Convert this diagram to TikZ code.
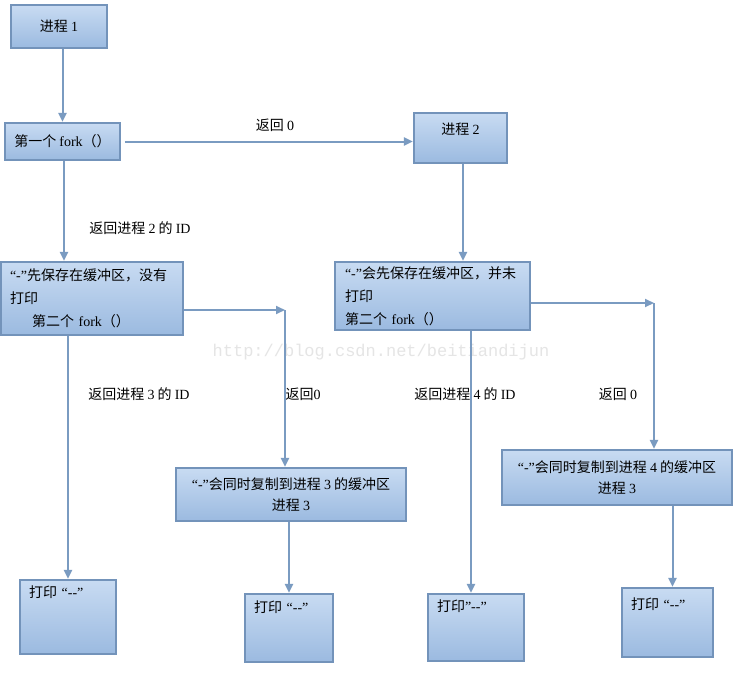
\documentclass[tikz,border=0pt]{standalone}
\usepackage{fontspec}
\setmainfont{Noto Sans CJK SC}
\newfontfamily\lat{Liberation Serif}[Ligatures=TeXOff]
\newfontfamily\wmfont{Liberation Mono}
\newcommand\en[1]{{\lat #1}}
\usetikzlibrary{arrows.meta}
\definecolor{boxtop}{HTML}{C8DBF2}
\definecolor{boxbottom}{HTML}{9BBAE0}
\definecolor{boxline}{HTML}{7393BA}
\definecolor{linkline}{HTML}{7A9BC1}

\tikzset{
  box/.style={draw=boxline, line width=2.2pt, top color=boxtop, bottom color=boxbottom,
    font=\fontsize{14}{23}\selectfont, inner xsep=9pt},
  printbox/.style={box, align=left, text width=#1, text height=10pt},
  link/.style={draw=linkline, line width=2pt, -{Triangle[length=9pt,width=8pt]}},
  tag/.style={font=\fontsize{14}{16}\selectfont},
  wmark/.style={font=\wmfont\fontsize{17}{20}\selectfont, text=black!10},
}

\begin{document}
\begin{tikzpicture}[x=1pt,y=-1pt]
\fill[white] (0,0) rectangle (743,682);
\useasboundingbox (0,0) rectangle (743,682);
\node[wmark] (wm) at (381,352) {http://blog.csdn.net/beitiandijun};

\node[box, minimum width=96pt, minimum height=43pt] (p1) at (59,26.5) {进程 \en{1}};
\node[box, minimum width=111pt, minimum height=37pt] (fork1) at (62.5,141.5) {第一个 \en{fork}（）};
\node[box, minimum width=93pt, minimum height=50pt, text height=10pt, text depth=18pt] (p2) at (460.5,138) {进程 \en{2}};
\node[box, text width=164pt, align=left, minimum height=73pt] (bufA) at (92,298.5)
  {\en{“-”}先保存在缓冲区，没有\\打印\\\hspace*{22pt}第二个 \en{fork}（）};
\node[box, text width=175pt, inner xsep=10pt, align=left, minimum height=68pt] (bufB) at (432.5,296)
  {\en{“-”}会先保存在缓冲区，并未\\打印\\第二个 \en{fork}（）};
\node[box, minimum width=230pt, minimum height=53pt, align=center, font=\fontsize{14}{21}\selectfont] (copy3) at (291,494.5)
  {\en{“-”}会同时复制到进程 \en{3} 的缓冲区\\进程 \en{3}};
\node[box, minimum width=230pt, minimum height=55pt, align=center, font=\fontsize{14}{21}\selectfont] (copy4) at (617,477.5)
  {\en{“-”}会同时复制到进程 \en{4} 的缓冲区\\进程 \en{3}};
\node[printbox=78pt, minimum height=74pt, text depth=50pt] (print1) at (68,617) {打印 \en{“--”}};
\node[printbox=70pt, minimum height=68pt, text depth=42pt] (print2) at (289,628) {打印 \en{“--”}};
\node[printbox=78pt, minimum height=67pt, text depth=43pt] (print3) at (476,627.5) {打印\en{”--”}};
\node[printbox=73pt, minimum height=69pt, text depth=37pt] (print4) at (667.5,622.5) {打印 \en{“--”}};

\coordinate (cA) at (285,310);
\coordinate (cB) at (654,303);

\draw[link] (fork1.north |- p1.south) -- (fork1.north);
\draw[link] ([xshift=4pt]fork1.east) -- (fork1.east -| p2.west);
\draw[link] ([xshift=1.5pt]fork1.south) -- ([xshift=1.5pt]fork1.south |- bufA.north);
\draw[link] (bufA.east |- cA) -- (cA);
\draw[link] (cA) -- (cA |- copy3.north);
\draw[link] (print1.north |- bufA.south) -- (print1.north);
\draw[link] (print2.north |- copy3.south) -- (print2.north);
\draw[link] ([xshift=2.5pt]p2.south) -- ([xshift=2.5pt]p2.south |- bufB.north);
\draw[link] (bufB.east |- cB) -- (cB);
\draw[link] (cB) -- (cB |- copy4.north);
\draw[link] ([xshift=-5pt]print3.north |- bufB.south) -- ([xshift=-5pt]print3.north);
\draw[link] ([xshift=5pt]print4.north |- copy4.south) -- ([xshift=5pt]print4.north);

\node[tag] (ret0a) at (275,125) {返回 \en{0}};
\node[tag] (retid2) at (140,228) {返回进程 \en{2} 的 \en{ID}};
\node[tag] (retid3) at (139,394) {返回进程 \en{3} 的 \en{ID}};
\node[tag] (ret0b) at (303,394) {返回\en{0}};
\node[tag] (retid4) at (465,394) {返回进程 \en{4} 的 \en{ID}};
\node[tag] (ret0c) at (618,394) {返回 \en{0}};
\end{tikzpicture}
\end{document}
